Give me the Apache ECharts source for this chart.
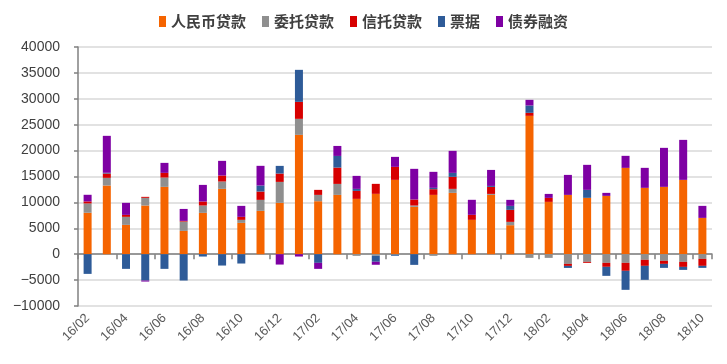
<!DOCTYPE html>
<html><head><meta charset="utf-8">
<script src="https://cdn.jsdelivr.net/npm/echarts@6/dist/echarts.min.js"></script>
<style>html,body{margin:0;padding:0;background:#fff}#c{width:727px;height:364px}</style>
</head><body><div id="c"></div>
<script>
const categories = ['16/02','16/03','16/04','16/05','16/06','16/07','16/08','16/09','16/10','16/11','16/12',
'17/01','17/02','17/03','17/04','17/05','17/06','17/07','17/08','17/09','17/10','17/11','17/12',
'18/01','18/02','18/03','18/04','18/05','18/06','18/07','18/08','18/09','18/10'];
const rmbLoans   = [8000,13260,5660,9400,13000,4500,7980,12610,6050,8370,9910,23040,10230,11450,10680,11650,14350,9140,11450,11840,6630,11450,5600,26710,10100,11450,10880,11260,16670,12810,13000,14350,7010];
const entrusted  = [1800,1480,1550,1480,1800,1800,1420,1420,580,2120,4050,3090,1220,2120,-320,-300,-100,260,-320,770,0,190,640,-710,-710,-1870,-1480,-1670,-1670,-1090,-1290,-1480,-900];
const trustLoans = [390,830,380,190,900,130,770,1160,580,1610,1610,3280,970,3150,1540,1930,2510,1160,1100,2320,970,1350,2320,580,770,-390,-190,-770,-1540,-1160,-580,-970,-1350];
const bills      = [-3800,150,-2830,-5080,-2830,-5080,-450,-2190,-1800,1160,1480,6180,-1670,2250,390,-1160,-200,-2060,260,770,0,190,770,1420,0,-390,1540,-1740,-3670,-2700,-770,-580,-390];
const bonds      = [1280,7130,2320,-200,1930,2310,3210,2830,2120,3800,-2000,-450,-1160,1930,2510,-580,1930,5920,3090,4250,2900,3090,1160,1090,770,3860,4830,580,2320,3860,7530,7720,2320];
const yTicks = {min:-10000, max:40000, interval:5000};
const names = ['人民币贷款','委托贷款','信托贷款','票据','债券融资'];
const colors = ['#F56400','#8F8F8F','#D70000','#2E5B98','#7E00A3'];
const seriesData = [rmbLoans, entrusted, trustLoans, bills, bonds];

const chart = echarts.init(document.getElementById('c'), null, {renderer:'canvas'});
chart.setOption({
  animation:false,
  color: colors,
  legend:{
    top: 9, left:'center', itemWidth:7, itemHeight:11, itemGap:16,
    icon:'rect',
    textStyle:{fontFamily:'"Noto Sans CJK SC"', fontSize:15, color:'#404040', fontWeight:'bold'},
    data: names
  },
  grid:{left:78, right:15, top:47, bottom:58, containLabel:false},
  xAxis:[{
    type:'category', data:categories, boundaryGap:true,
    axisLine:{onZero:true, lineStyle:{color:'#808080', width:1.5}},
    axisTick:{show:true, interval:1, length:5, lineStyle:{color:'#808080', width:1.5}},
    axisLabel:{show:false}, splitLine:{show:false}
  },{
    type:'category', data:categories, boundaryGap:true, position:'bottom',
    axisLine:{show:false, onZero:false}, axisTick:{show:false},
    axisLabel:{interval:1, rotate:45, margin:10, fontSize:13, color:'#595959', fontFamily:'"Liberation Sans", Arial'}
  }],
  yAxis:{
    type:'value', min:yTicks.min, max:yTicks.max, interval:yTicks.interval,
    axisLine:{show:true, lineStyle:{color:'#808080', width:1.5}},
    axisTick:{show:true, length:4, lineStyle:{color:'#808080', width:1.5}},
    splitLine:{lineStyle:{color:'#d9d9d9', width:1.5}},
    axisLabel:{fontSize:14, color:'#404040', margin:18, fontFamily:'"Liberation Sans", Arial',
      formatter:v=>String(v).replace('-','\u2212')}
  },
  series: names.map((n,i)=>({
    name:n, type:'bar', stack:'total', barWidth:8, xAxisIndex:0,
    data: seriesData[i], itemStyle:{color:colors[i]}
  }))
});
</script></body></html>
